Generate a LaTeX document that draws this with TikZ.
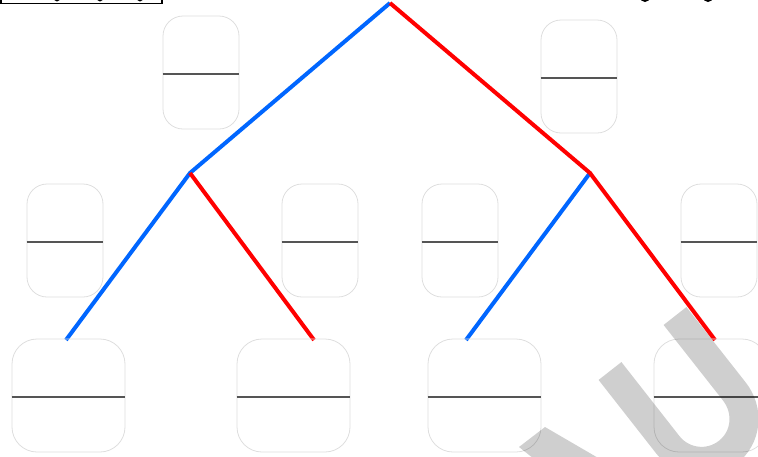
\documentclass[tikz,border=0pt]{standalone}
\usepackage{tikz}
\usetikzlibrary{positioning,calc}
\definecolor{branchblue}{RGB}{0,102,255}
\definecolor{branchred}{RGB}{255,0,0}
\definecolor{slotgray}{RGB}{222,222,222}
\definecolor{rulegray}{RGB}{85,85,85}
\tikzset{
  slot/.style={draw=slotgray, line width=0.8pt, rounded corners=20pt,
               minimum width=76pt, minimum height=113pt, inner sep=0pt},
  slotwide/.style={slot, rounded corners=25pt, minimum width=113pt},
  midline/.style={draw=rulegray, line width=2pt},
  blueedge/.style={draw=branchblue, line width=4pt},
  rededge/.style={draw=branchred, line width=4pt},
  wmark/.style={black, opacity=0.19}
}

\begin{document}
\begin{tikzpicture}[x=1pt,y=-1pt]
  \useasboundingbox (0,0) rectangle (758,456);
  \clip (0,0) rectangle (758,456);

  % cut-off heading at the top edge
  \draw[line width=1.6pt] (1,-20) rectangle (162,3.5);
  \foreach \gx in {57,100,140}
    \fill (\gx,-3) ellipse[x radius=3.5pt, y radius=4.5pt];
  \foreach \gx in {645,708}
    \fill (\gx,-3) ellipse[x radius=5pt, y radius=5pt];

  % branch points
  \coordinate (root) at (390,3);
  \coordinate (l) at (190,173);
  \coordinate (r) at (590,173);
  \coordinate (ll) at (66,340);
  \coordinate (lr) at (314,340);
  \coordinate (rl) at (466,340);
  \coordinate (rr) at (715,340);

  \draw[blueedge] (root) -- (l) -- (ll);
  \draw[blueedge] (r) -- (rl);
  \draw[rededge] (root) -- (r) -- (rr);
  \draw[rededge] (l) -- (lr);

  \node[slot] (sa) at (201,72.5) {};
  \node[slot] (sb) at (579,76.5) {};
  \node[slot] (sc) at (65,240.5) {};
  \node[slot] (sd) at (320,240.5) {};
  \node[slot] (se) at (460,240.5) {};
  \node[slot] (sf) at (719,240.5) {};
  \node[slotwide] (sg) at (68.5,395.5) {};
  \node[slotwide] (sh) at (293.5,395.5) {};
  \node[slotwide] (si) at (484.5,395.5) {};
  \node[slotwide] (sj) at (710.5,395.5) {};

  \foreach \n in {sa,sb,sc,sd,se,sf,sg,sh,si,sj}
    \draw[midline] ([yshift=-1.5pt]\n.west) -- ([yshift=-1.5pt]\n.east);

  % watermark
  \draw[wmark, line width=29pt] (610,371) -- (668,445)
    .. controls (682.6,463.6) and (709.3,466.8) .. (727.9,452.2)
    .. controls (746.5,437.6) and (749.6,410.6) .. (734,391) -- (675,316);
  \fill[wmark] (519,447) -- (545,427) -- (612,466) -- (543,466) -- cycle;
\end{tikzpicture}
\end{document}
